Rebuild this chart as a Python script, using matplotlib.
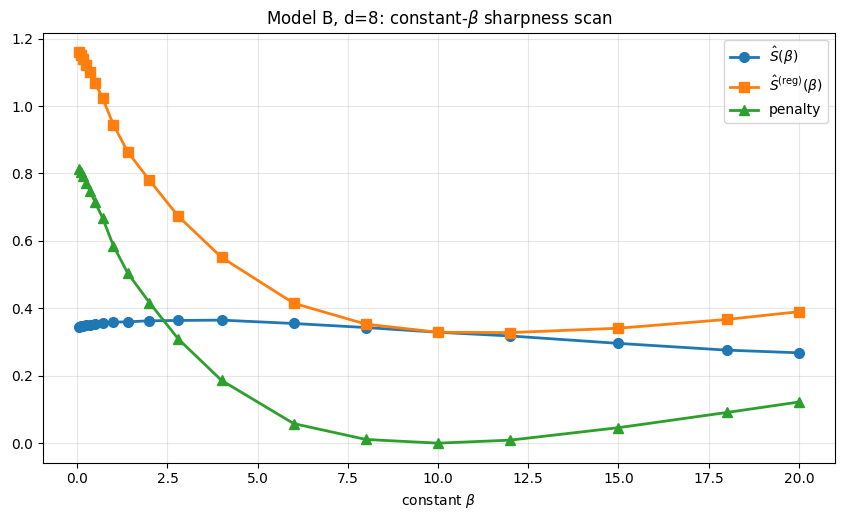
import matplotlib
matplotlib.use("Agg")
import matplotlib.pyplot as plt
import numpy as np

# constant beta values scanned
beta = [0.05, 0.1, 0.15, 0.25, 0.35, 0.5, 0.7, 1.0, 1.4, 2.0, 2.8, 4.0,
        6.0, 8.0, 10.0, 12.0, 15.0, 18.0, 20.0]

# sharpness estimate
s_hat = [0.346, 0.347, 0.348, 0.350, 0.352, 0.354, 0.356, 0.359, 0.360,
         0.363, 0.364, 0.365, 0.355, 0.343, 0.329, 0.318, 0.296, 0.276, 0.268]

# penalty term
penalty = [0.814, 0.803, 0.792, 0.772, 0.748, 0.714, 0.668, 0.586, 0.504,
           0.417, 0.309, 0.186, 0.058, 0.011, 0.000, 0.009, 0.046, 0.091, 0.122]

# regularised sharpness
s_reg = [1.160, 1.150, 1.140, 1.122, 1.100, 1.068, 1.024, 0.945, 0.864,
         0.780, 0.673, 0.551, 0.415, 0.353, 0.329, 0.328, 0.341, 0.367, 0.390]

fig, ax = plt.subplots(figsize=(8.45, 5.17), dpi=100)
fig.subplots_adjust(left=0.051, right=0.988, top=0.937, bottom=0.105)

ax.plot(beta, s_hat, 'o-', lw=2, ms=7, label=r'$\hat{S}(\beta)$')
ax.plot(beta, s_reg, 's-', lw=2, ms=7, label=r'$\hat{S}^{(\mathrm{reg})}(\beta)$')
ax.plot(beta, penalty, '^-', lw=2, ms=7, label='penalty')

ax.set_xlabel(r'constant $\beta$')
ax.set_title(r'Model B, d=8: constant-$\beta$ sharpness scan')
ax.grid(True, alpha=0.3)
ax.legend(loc='upper right')

fig.savefig('out.png')
